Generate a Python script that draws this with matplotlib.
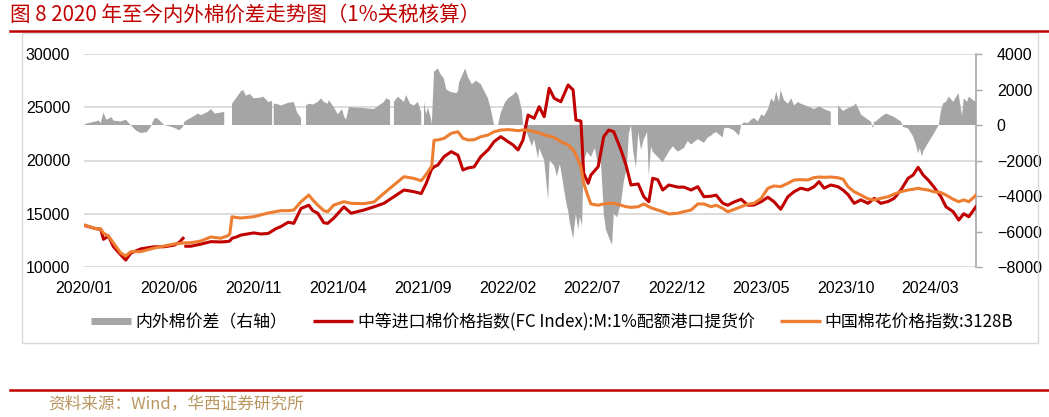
import numpy as np
import pandas as pd
import matplotlib
matplotlib.use("Agg")
import matplotlib.pyplot as plt
from matplotlib.lines import Line2D
from matplotlib.patches import Rectangle

nan = float("nan")

# ---------------- data ----------------
price_dates = [
    "2020-01-02", "2020-01-22", "2020-01-31", "2020-02-05", "2020-02-14", "2020-02-23", "2020-03-07", "2020-03-16",
    "2020-03-25", "2020-04-12", "2020-05-06", "2020-05-24", "2020-06-11", "2020-06-20", "2020-06-27", "2020-06-29",
    "2020-07-02", "2020-07-11", "2020-07-29", "2020-08-16", "2020-09-03", "2020-09-16", "2020-09-19", "2020-09-23",
    "2020-09-30", "2020-10-09", "2020-11-01", "2020-11-14", "2020-11-27", "2020-12-11", "2020-12-20", "2021-01-02",
    "2021-01-12", "2021-01-25", "2021-02-08", "2021-02-15", "2021-02-24", "2021-03-07", "2021-03-14", "2021-03-25",
    "2021-04-12", "2021-04-25", "2021-05-18", "2021-06-05", "2021-06-23", "2021-07-11", "2021-07-29", "2021-08-16",
    "2021-08-29", "2021-09-07", "2021-09-16", "2021-09-17", "2021-09-21", "2021-09-28", "2021-10-09", "2021-10-22",
    "2021-11-03", "2021-11-12", "2021-11-21", "2021-12-02", "2021-12-14", "2021-12-27", "2022-01-07", "2022-01-19",
    "2022-02-01", "2022-02-10", "2022-02-19", "2022-02-28", "2022-03-09", "2022-03-20", "2022-03-29", "2022-04-07",
    "2022-04-16", "2022-04-25", "2022-05-07", "2022-05-20", "2022-05-29", "2022-06-03", "2022-06-12", "2022-06-17",
    "2022-06-25", "2022-06-30", "2022-07-13", "2022-07-23", "2022-08-01", "2022-08-10", "2022-08-23", "2022-09-01",
    "2022-09-10", "2022-09-23", "2022-10-03", "2022-10-12", "2022-10-19", "2022-10-28", "2022-11-06", "2022-11-17",
    "2022-12-03", "2022-12-14", "2022-12-27", "2023-01-08", "2023-01-19", "2023-02-01", "2023-02-10", "2023-02-22",
    "2023-03-03", "2023-03-14", "2023-03-27", "2023-04-08", "2023-04-19", "2023-05-02", "2023-05-14", "2023-05-25",
    "2023-06-06", "2023-06-19", "2023-06-30", "2023-07-12", "2023-07-25", "2023-08-05", "2023-08-14", "2023-08-23",
    "2023-09-04", "2023-09-17", "2023-09-26", "2023-10-05", "2023-10-16", "2023-10-28", "2023-11-10", "2023-11-21",
    "2023-12-03", "2023-12-16", "2023-12-27", "2024-01-08", "2024-01-21", "2024-01-30", "2024-02-08", "2024-02-17",
    "2024-02-26", "2024-03-07", "2024-03-20", "2024-03-29", "2024-04-11", "2024-04-21", "2024-04-30", "2024-05-09",
    "2024-05-17", "2024-05-22",
]

# 中等进口棉价格指数(FC Index):M:1%配额港口提货价
fc_index = [
    13900, 13600, 13550, 12600, 12900, 11900, 11150, 10650,
    11300, 11700, 11900, 11900, 12050, 12300, 12700, nan,
    11950, 11950, 12150, 12380, 12350, 12400, 12450, 12700,
    12800, 13000, 13200, 13100, 13150, 13600, 13800, 14200,
    14100, 15500, 15800, 15300, 15050, 14150, 14100, 14600,
    15650, 15050, 15350, 15650, 15980, 16600, 17230, 17070,
    16900, 17850, 19100, 19200, 19400, 19580, 20360, 20830,
    20500, 19110, 19300, 19400, 20360, 20990, 21770, 22240,
    21770, 21460, 20990, 21930, 24270, 23960, 25050, 24110,
    26780, 25840, 25520, 27090, 26620, 23800, 23700, 18800,
    17860, 18640, 19420, 22240, 22860, 22700, 20990, 19580,
    17700, 17800, 16600, 16130, 18330, 18200, 17230, 17700,
    17500, 17500, 17230, 17540, 16600, 16650, 16750, 15980,
    15800, 16100, 16360, 15800, 15820, 16130, 16550, 16130,
    15420, 16600, 17070, 17400, 17230, 17540, 18010, 17400,
    17700, 17540, 17230, 16800, 15980, 16300, 15980, 16450,
    15980, 16150, 16450, 17230, 18330, 18640, 19360, 18640,
    18170, 17540, 16600, 15660, 15190, 14410, 15000, 14720,
    15300, 15660,
]

# 中国棉花价格指数:3128B
cc_index = [
    13940, 13600, 13570, 13190, 12900, 12250, 11310, 11030,
    11440, 11440, 11780, 11970, 12160, 12200, 12250, 12250,
    12270, 12280, 12440, 12820, 12700, 12950, 13100, 14720,
    14650, 14600, 14720, 14900, 15070, 15200, 15290, 15290,
    15350, 16130, 16760, 16300, 15820, 15290, 15190, 15820,
    16130, 15980, 15950, 16100, 16920, 17700, 18480, 18320,
    18100, 18700, 19400, 19500, 21900, 21930, 22080, 22550,
    22700, 22080, 21930, 21950, 22230, 22390, 22700, 22860,
    22900, 22860, 22800, 22860, 22860, 22700, 22600, 22390,
    22300, 22150, 21770, 21460, 21000, 20520, 19420, 17860,
    16600, 15920, 15800, 15920, 15980, 15980, 15800, 15660,
    15600, 15660, 15920, 15660, 15500, 15350, 15200, 14980,
    15050, 15200, 15350, 15920, 15920, 15660, 15800, 15500,
    15190, 15400, 15660, 15900, 15980, 16450, 17390, 17610,
    17550, 17860, 18170, 18200, 18170, 18400, 18450, 18420,
    18450, 18380, 18250, 17540, 17070, 16760, 16400, 16300,
    16450, 16600, 16850, 17070, 17230, 17300, 17390, 17300,
    17230, 17070, 16990, 16760, 16360, 16130, 16300, 16130,
    16500, 16760,
]

# 内外棉价差（右轴）
spread_dates = [
    "2020-01-02", "2020-01-22", "2020-01-28", "2020-01-31", "2020-02-05", "2020-02-10", "2020-02-14", "2020-02-19",
    "2020-02-23", "2020-03-07", "2020-03-16", "2020-03-25", "2020-04-03", "2020-04-12", "2020-04-23", "2020-04-30",
    "2020-05-06", "2020-05-11", "2020-05-24", "2020-06-11", "2020-06-20", "2020-06-27", "2020-06-29", "2020-07-02",
    "2020-07-11", "2020-07-24", "2020-07-29", "2020-08-11", "2020-08-16", "2020-08-23", "2020-09-03", "2020-09-09",
    "2020-09-10", "2020-09-19", "2020-09-23", "2020-09-30", "2020-10-09", "2020-10-13", "2020-10-18", "2020-10-25",
    "2020-11-01", "2020-11-14", "2020-11-18", "2020-11-27", "2020-12-04", "2020-12-06", "2020-12-07", "2020-12-11",
    "2020-12-20", "2021-01-02", "2021-01-12", "2021-01-18", "2021-01-25", "2021-01-29", "2021-02-03", "2021-02-08",
    "2021-02-15", "2021-02-24", "2021-03-02", "2021-03-07", "2021-03-14", "2021-03-16", "2021-03-25", "2021-04-01",
    "2021-04-09", "2021-04-12", "2021-04-16", "2021-04-21", "2021-04-25", "2021-05-18", "2021-06-05", "2021-06-23",
    "2021-06-27", "2021-07-04", "2021-07-09", "2021-07-11", "2021-07-18", "2021-07-29", "2021-08-02", "2021-08-09",
    "2021-08-16", "2021-08-23", "2021-08-29", "2021-09-01", "2021-09-03", "2021-09-07", "2021-09-10", "2021-09-16",
    "2021-09-17", "2021-09-21", "2021-09-28", "2021-10-02", "2021-10-09", "2021-10-13", "2021-10-22", "2021-10-31",
    "2021-11-03", "2021-11-05", "2021-11-12", "2021-11-16", "2021-11-21", "2021-11-28", "2021-12-02", "2021-12-05",
    "2021-12-14", "2021-12-27", "2022-01-01", "2022-01-07", "2022-01-14", "2022-01-19", "2022-01-27", "2022-02-01",
    "2022-02-10", "2022-02-15", "2022-02-19", "2022-02-21", "2022-02-26", "2022-02-28", "2022-03-05", "2022-03-09",
    "2022-03-16", "2022-03-20", "2022-03-27", "2022-03-29", "2022-04-07", "2022-04-14", "2022-04-16", "2022-04-17",
    "2022-04-25", "2022-04-30", "2022-05-05", "2022-05-07", "2022-05-13", "2022-05-18", "2022-05-20", "2022-05-23",
    "2022-05-29", "2022-06-03", "2022-06-07", "2022-06-10", "2022-06-12", "2022-06-14", "2022-06-17", "2022-06-23",
    "2022-06-25", "2022-06-30", "2022-07-07", "2022-07-13", "2022-07-18", "2022-07-22", "2022-07-23", "2022-07-27",
    "2022-08-01", "2022-08-07", "2022-08-10", "2022-08-16", "2022-08-23", "2022-08-28", "2022-09-01", "2022-09-03",
    "2022-09-06", "2022-09-10", "2022-09-14", "2022-09-19", "2022-09-23", "2022-09-28", "2022-10-03", "2022-10-09",
    "2022-10-12", "2022-10-16", "2022-10-19", "2022-10-28", "2022-11-06", "2022-11-17", "2022-11-24", "2022-12-03",
    "2022-12-14", "2022-12-21", "2022-12-27", "2023-01-08", "2023-01-19", "2023-01-26", "2023-02-01", "2023-02-04",
    "2023-02-10", "2023-02-22", "2023-02-24", "2023-03-03", "2023-03-14", "2023-03-23", "2023-03-27", "2023-04-01",
    "2023-04-08", "2023-04-14", "2023-04-19", "2023-04-26", "2023-05-02", "2023-05-07", "2023-05-14", "2023-05-20",
    "2023-05-25", "2023-05-29", "2023-06-03", "2023-06-06", "2023-06-12", "2023-06-19", "2023-06-25", "2023-06-30",
    "2023-07-07", "2023-07-12", "2023-07-25", "2023-08-05", "2023-08-14", "2023-08-23", "2023-09-04", "2023-09-08",
    "2023-09-15", "2023-09-17", "2023-09-26", "2023-10-05", "2023-10-16", "2023-10-19", "2023-10-27", "2023-10-28",
    "2023-11-10", "2023-11-15", "2023-11-19", "2023-11-21", "2023-11-24", "2023-12-03", "2023-12-12", "2023-12-16",
    "2023-12-27", "2024-01-08", "2024-01-12", "2024-01-21", "2024-01-30", "2024-02-04", "2024-02-08", "2024-02-11",
    "2024-02-15", "2024-02-17", "2024-02-26", "2024-03-07", "2024-03-16", "2024-03-20", "2024-03-24", "2024-03-29",
    "2024-04-03", "2024-04-11", "2024-04-20", "2024-04-21", "2024-04-27", "2024-04-30", "2024-05-06", "2024-05-09",
    "2024-05-17", "2024-05-22",
]
spread_vals = [
    50, 200, 250, 100, 700, 300, 350, 450,
    250, 200, 300, 0, -300, -450, -400, -100,
    350, 400, 0, -150, -300, -100, 150, 250,
    400, 650, 550, 750, 900, 650, 700, 750,
    nan, nan, 1200, 1500, 1900, 1970, 1650, 1750,
    1500, 1550, 1600, 1300, 1350, nan, 1200, 1200,
    1100, 1250, 1300, 700, 400, nan, 1100, 1200,
    1150, 1300, 1500, 1300, 1200, 1400, 1000, 600,
    900, 500, 300, 1000, 1000, 950, 900, 1300,
    1500, 1400, nan, 1300, 1600, 1300, 1690, 1200,
    1100, 1300, 700, nan, 1300, 600, 1000, 300,
    0, 3000, 3190, 2900, 2600, 2000, 1850, 1800,
    1900, 2400, 2900, 3190, 2700, 2300, 2400, 2500,
    2300, 1500, 900, 0, 0, 700, 1300, 1500,
    1700, 1880, 1700, 1500, 800, 0, -300, -600,
    -1200, -800, -1900, -1300, -2000, -4200, -2500, -2000,
    -2300, -2900, -2200, -2500, -3700, -4600, -4800, -5500,
    -6400, -5000, -5900, -5200, -5400, -5700, -2000, -1500,
    -1600, -1800, -1300, -2300, -2100, -4300, -5000, -5900,
    -6300, -6760, -5000, -5200, -4400, -3200, -2600, -2200,
    -500, 0, -1500, -2400, -400, -1400, -800, -400,
    -2900, -1200, -1500, -1800, -2100, -1500, -1200, -1500,
    -1300, -900, -1100, -800, -1000, -700, -600, -500,
    -400, -700, -200, -150, -300, -600, 0, 150,
    100, 300, 400, 200, 600, 500, 900, 1500,
    1300, 1880, 1300, 1970, 1400, 1200, 1500, 1100,
    1300, 1200, 1050, 900, 1050, 900, 750, nan,
    nan, 1100, 800, 950, 1100, 1220, 700, 600,
    300, 200, -190, 200, 200, 450, 650, 600,
    450, 200, -100, -200, -650, -1100, -1600, -1300,
    -1785, -1500, -1000, -500, 0, 800, 1220, 1300,
    1600, 1300, 1790, 1700, 500, 1500, 1300, 1600,
    1400, 1300,
]

tick_dates = ["2020-01-01", "2020-06-01", "2020-11-01", "2021-04-01", "2021-09-01", "2022-02-01",
              "2022-07-01", "2022-12-01", "2023-05-01", "2023-10-01", "2024-03-01"]
tick_labels = ["2020/01", "2020/06", "2020/11", "2021/04", "2021/09", "2022/02",
               "2022/07", "2022/12", "2023/05", "2023/10", "2024/03"]
left_ticks = [10000, 15000, 20000, 25000, 30000]
right_ticks = [-8000, -6000, -4000, -2000, 0, 2000, 4000]

legend_labels = ["内外棉价差（右轴）",
                 "中等进口棉价格指数(FC Index):M:1%配额港口提货价",
                 "中国棉花价格指数:3128B"]
title_text = "图 8 2020 年至今内外棉价差走势图（1%关税核算）"
source_text = "资料来源：Wind，华西证券研究所"

# ---------------- style ----------------
RED = "#C00000"
ORANGE = "#ED7D31"
GRAY = "#A5A5A5"
GRID = "#D9D9D9"
CJK = ["Noto Sans CJK SC", "DejaVu Sans"]
NUM = ["Liberation Sans", "DejaVu Sans"]

plt.rcParams["font.family"] = CJK

W, H = 1049, 417
fig = plt.figure(figsize=(W / 100, H / 100), dpi=100)

# frame box and red rules
fig.patches.append(Rectangle((22 / W, 1 - 343 / H), (1038 - 22) / W, (343 - 33) / H,
                             transform=fig.transFigure, fill=False, edgecolor=GRID, lw=1.0))
fig.add_artist(Line2D([10 / W, 1.0], [1 - 31 / H, 1 - 31 / H], color=RED, lw=1.8,
                      transform=fig.transFigure))
fig.add_artist(Line2D([10 / W, 1.0], [1 - 390 / H, 1 - 390 / H], color=RED, lw=1.8,
                      transform=fig.transFigure))

fig.text(10 / W, 1 - 15 / H, title_text, color=RED, fontsize=14.8, va="center", ha="left",
         family=CJK)
fig.text(48 / W, 1 - 404 / H, source_text, color="#B8965E", fontsize=12, va="center",
         ha="left", family=CJK)

rect = [84 / W, 1 - 267 / H, (976 - 84) / W, (267 - 54) / H]
ax = fig.add_axes(rect)
pd_price = pd.to_datetime(price_dates)
pd_spread = pd.to_datetime(spread_dates)
x0 = pd.Timestamp("2020-01-01")
x1 = pd_price[-1]

ax.set_xlim(x0, x1)
ax.set_ylim(10000, 30000)
ax.set_yticks(left_ticks)
ax.set_yticklabels([str(v) for v in left_ticks], family=NUM, fontsize=11.5)
ax.grid(axis="y", color=GRID, lw=1.3)
ax.set_axisbelow(True)
ax.set_xticks(pd.to_datetime(tick_dates))
ax.set_xticklabels(tick_labels, family=NUM, fontsize=11.5)
ax.tick_params(axis="y", length=0, pad=10)
ax.tick_params(axis="x", length=0, pad=10)
for s in ax.spines.values():
    s.set_visible(False)

ax2 = ax.twinx()
ax2.fill_between(pd_spread, 0, np.array(spread_vals, dtype=float), color=GRAY, lw=0)
ax2.set_ylim(-8000, 4000)
ax2.set_xlim(x0, x1)
ax2.set_yticks(right_ticks)
ax2.set_yticklabels([f"{v:d}".replace("-", "\u2212") for v in right_ticks], family=NUM, fontsize=11.5)
ax2.tick_params(axis="y", length=4, width=1, color="#A6A6A6", pad=11)
for k, s in ax2.spines.items():
    s.set_visible(k == "right")
ax2.spines["right"].set_color("#A6A6A6")
ax2.spines["right"].set_linewidth(1.2)

ax3 = ax.twinx()
ax3.set_ylim(10000, 30000)
ax3.set_xlim(x0, x1)
ax3.plot(pd_price, fc_index, color=RED, lw=2.2)
ax3.plot(pd_price, cc_index, color=ORANGE, lw=2.2)
ax3.set_yticks([])
for s in ax3.spines.values():
    s.set_visible(False)

handles = [Line2D([], [], color=GRAY, lw=5, solid_capstyle="butt"),
           Line2D([], [], color=RED, lw=2.4, solid_capstyle="butt"),
           Line2D([], [], color=ORANGE, lw=2.4, solid_capstyle="butt")]
fig.legend(handles, legend_labels, loc="center", bbox_to_anchor=(552 / W, 1 - 322 / H),
           ncol=3, frameon=False, handlelength=2.4, handletextpad=0.25,
           columnspacing=1.5, prop={"family": CJK, "size": 12.2})

fig.savefig("out.png", dpi=100)
